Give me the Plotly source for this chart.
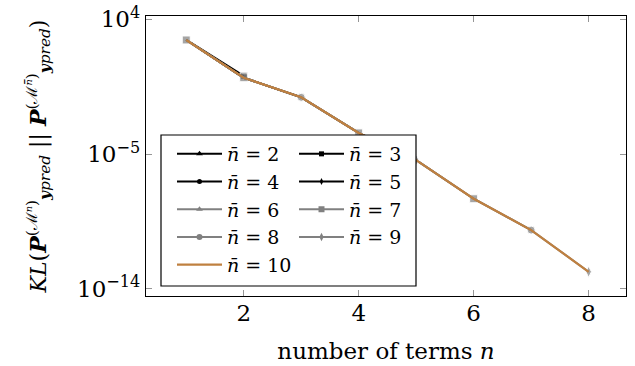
import plotly.graph_objects as go

# number of terms n
n_terms = [1, 2, 3, 4, 5, 6, 7, 8]

# KL divergence (all n-bar curves practically coincide)
kl_common = [417, 1.26, 6.2e-2, 2.6e-4, 4.0e-6, 1.05e-8, 8.5e-11, 1.4e-13]
kl_nbar3 = [417, 1.7]

nbar_values = [2, 3, 4, 5, 6, 7, 8, 9, 10]

# marker that ends up on top at each n in the picture
top_marker = {1: 7, 2: 7, 3: 8, 4: 7, 5: 9, 6: 7, 7: 8, 8: 9}

BLACK = "black"
GRAY = "rgb(128,128,128)"
BROWN = "rgb(191,128,64)"
FONT = "DejaVu Serif"

styles = {
    2: (BLACK, "triangle-up", 8),
    3: (BLACK, "square", 7),
    4: (BLACK, "circle", 7),
    5: (BLACK, "diamond-tall", 7),
    6: (GRAY, "triangle-up", 8),
    7: (GRAY, "square", 8),
    8: (GRAY, "circle", 8),
    9: (GRAY, "diamond-tall", 8),
    10: (BROWN, None, 0),
}


def series(nb):
    if nb == 3:
        return n_terms[:2], kl_nbar3
    if nb == 10:
        return n_terms, kl_common
    return n_terms[:nb - 1], kl_common[:nb - 1]


fig = go.Figure()

for nb in nbar_values:
    x, y = series(nb)
    color, sym, size = styles[nb]
    if sym is None:
        fig.add_trace(go.Scatter(x=x, y=y, mode="lines", line=dict(color=color, width=2.2),
                                 showlegend=False))
    else:
        sizes = [size if (top_marker[n] == nb or (nb == 3 and n == 2)) else 0 for n in x]
        fig.add_trace(go.Scatter(x=x, y=y, mode="lines+markers", line=dict(color=color, width=2),
                                 marker=dict(symbol=sym, size=sizes, color=color),
                                 showlegend=False))

# legend entries (two columns -> two legends)
for nb in nbar_values:
    color, sym, size = styles[nb]
    leg = "legend" if nb % 2 == 0 else "legend2"
    name = "<i>n̄</i> = %d" % nb
    if sym is None:
        fig.add_trace(go.Scatter(x=[None], y=[None], mode="lines", name=name,
                                 line=dict(color=color, width=2.2), legend=leg))
    else:
        fig.add_trace(go.Scatter(x=[None], y=[None], mode="lines+markers", name=name,
                                 line=dict(color=color, width=2),
                                 marker=dict(symbol=sym, size=size - 2, color=color), legend=leg))

L, R, T, B = 146, 9, 16, 70
W, H = 635, 366
pw, ph = W - L - R, H - T - B


def px_x(p):
    return (p - L) / pw


def px_y(p):
    return 1 - (p - T) / ph


fig.add_shape(type="rect", xref="paper", yref="paper", x0=px_x(161), x1=px_x(416),
              y0=px_y(286), y1=px_y(135), line=dict(color="black", width=1.2),
              fillcolor="white", layer="above")

ytitle = ("<i>KL</i>(<b><i>P</i></b><sup>(ℳ<i>ⁿ</i>)</sup><sub><b><i>y</i></b><i>pred</i></sub>"
          " || <b><i>P</i></b><sup>(ℳ<i>ⁿ̄</i>)</sup><sub><b><i>y</i></b><i>pred</i></sub>)")

legend_font = dict(family=FONT, size=19, color="black")

fig.update_layout(
    width=W, height=H,
    margin=dict(l=L, r=R, t=T, b=B, autoexpand=False),
    paper_bgcolor="white", plot_bgcolor="white",
    font=dict(family=FONT, size=23, color="black"),
    xaxis=dict(range=[0.3, 8.65], tickvals=[2, 4, 6, 8], ticks="inside", ticklen=6,
               tickcolor="rgb(150,150,150)", showline=True, linecolor="black", linewidth=1.3,
               mirror="ticks", showgrid=False, zeroline=False, automargin=False,
               tickfont=dict(family=FONT, size=23), ticklabelstandoff=-4,
               title=dict(text="number of terms <i>n</i>", font=dict(family=FONT, size=23),
                          standoff=18)),
    yaxis=dict(type="log", range=[-14.47, 4.22], tickvals=[1e4, 1e-5, 1e-14],
               ticktext=["10<sup>4</sup>", "10<sup>−5</sup>", "10<sup>−14</sup>"],
               ticks="inside", ticklen=6, tickcolor="rgb(150,150,150)", showline=True,
               linecolor="black", linewidth=1.3, mirror="ticks", showgrid=False,
               zeroline=False, automargin=False, tickfont=dict(family=FONT, size=23),
               title=dict(text=ytitle, font=dict(family=FONT, size=22), standoff=24)),
    legend=dict(x=px_x(172), y=px_y(135), xanchor="left", yanchor="top",
                bgcolor="rgba(0,0,0,0)", font=legend_font, itemwidth=45,
                tracegroupgap=0),
    legend2=dict(x=px_x(294), y=px_y(135), xanchor="left", yanchor="top",
                 bgcolor="rgba(0,0,0,0)", font=legend_font, itemwidth=45,
                 tracegroupgap=0),
)

fig.write_html("out.html", post_script="document.body.style.margin='0px';",
               config={"displayModeBar": False})
